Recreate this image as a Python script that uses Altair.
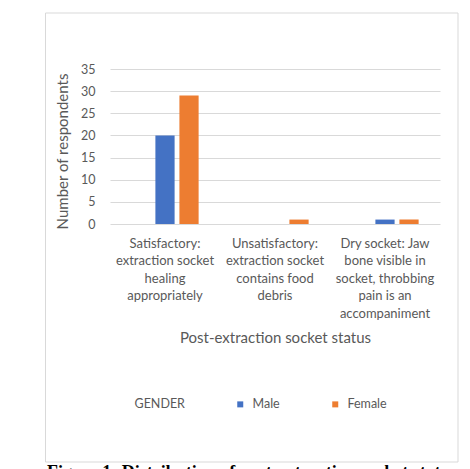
import altair as alt
import pandas as pd

categories = [
    "Satisfactory:|extraction socket|healing|appropriately",
    "Unsatisfactory:|extraction socket|contains food|debris",
    "Dry socket: Jaw|bone visible in|socket, throbbing|pain is an|accompaniment",
]
series = ["GENDER", "Male", "Female"]
gender_vals = [0, 0, 0]
male_vals = [20, 0, 1]
female_vals = [29, 1, 1]
series_colors = ["transparent", "#4472C4", "#ED7D31"]

rows = []
for s, vals in zip(series, [gender_vals, male_vals, female_vals]):
    for c, v in zip(categories, vals):
        rows.append({"status": c, "gender": s, "count": v})
df = pd.DataFrame(rows)

FONT = "Lato"
TXT = "#595959"

frame = alt.Chart(pd.DataFrame({"a": [0]})).mark_rect(
    fillOpacity=0, stroke="#d9d9d9", strokeWidth=1
).encode(
    x=alt.value(-64.5), x2=alt.value(348), y=alt.value(-56), y2=alt.value(393)
)

bars = alt.Chart(df).mark_bar().encode(
    x=alt.X(
        "status:N",
        sort=categories,
        scale=alt.Scale(paddingInner=0, paddingOuter=0),
        axis=alt.Axis(
            labelExpr="split(datum.label, '|')",
            labelAngle=0,
            labelFont=FONT,
            labelFontSize=13,
            labelColor=TXT,
            labelLineHeight=17.5,
            labelPadding=13,
            labelLimit=200,
            domain=False,
            ticks=False,
            grid=False,
            title="Post-extraction socket status",
            titleFont=FONT,
            titleFontSize=15,
            titleFontWeight="normal",
            titleColor=TXT,
            titlePadding=10,
        ),
    ),
    xOffset=alt.XOffset(
        "gender:N", sort=series, scale=alt.Scale(paddingInner=0.2, paddingOuter=0.89)
    ),
    y=alt.Y(
        "count:Q",
        scale=alt.Scale(domain=[0, 35], nice=False),
        axis=alt.Axis(
            values=[0, 5, 10, 15, 20, 25, 30, 35],
            labelFont=FONT,
            labelFontSize=12.5,
            labelColor=TXT,
            labelPadding=15,
            domain=False,
            ticks=False,
            gridColor="#d9d9d9",
            gridWidth=1,
            title="Number of respondents",
            titleFont=FONT,
            titleFontSize=15,
            titleFontWeight="normal",
            titleColor=TXT,
            titlePadding=10,
            titleY=82,
        ),
    ),
    color=alt.Color(
        "gender:N",
        sort=series,
        scale=alt.Scale(domain=series, range=series_colors),
        legend=alt.Legend(
            title=None,
            orient="none",
            legendX=6,
            legendY=329,
            direction="horizontal",
            columns=3,
            symbolType="square",
            symbolSize=36,
            symbolStrokeWidth=0,
            labelFont=FONT,
            labelFontSize=12.5,
            labelColor=TXT,
            labelOffset=6,
            columnPadding=49,
        ),
    ),
)

caption = alt.Chart(pd.DataFrame({"t": ["Figure 1: Distribution of post-extraction socket status"]})).mark_text(
    font="Liberation Serif", fontSize=18, fontWeight="bold", color="black",
    align="left", baseline="top"
).encode(
    text="t:N", x=alt.value(-63), y=alt.value(395)
)

chart = alt.layer(frame, bars, caption).properties(
    width=330,
    height=155,
    autosize=alt.AutoSizeParams(type="none"),
    padding={"left": 102, "top": 61, "right": 20, "bottom": 245},
).configure_view(stroke=None)

chart.save("out.html", embed_options={"renderer": "svg", "actions": False})
